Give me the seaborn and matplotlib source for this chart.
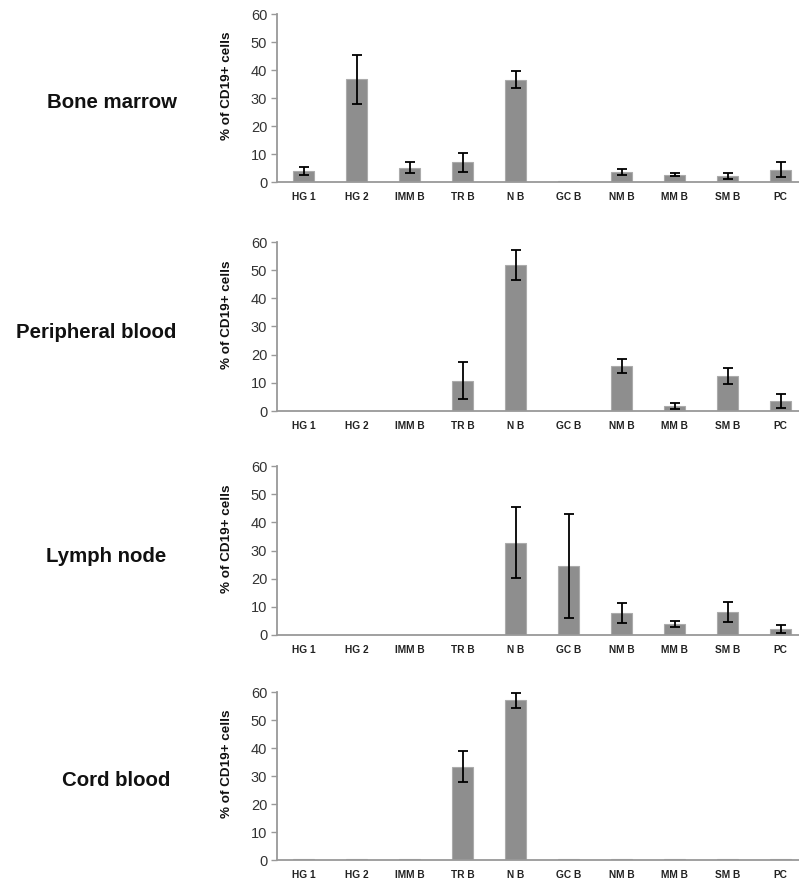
import numpy as np
import pandas as pd
import matplotlib
matplotlib.use("Agg")
import matplotlib.pyplot as plt
import seaborn as sns

categories = ["HG 1", "HG 2", "IMM B", "TR B", "N B", "GC B", "NM B", "MM B", "SM B", "PC"]
tissues = ["Bone marrow", "Peripheral blood", "Lymph node", "Cord blood"]

bone_marrow_mean = [4.0, 36.7, 5.1, 7.0, 36.6, 0.2, 3.6, 2.6, 2.0, 4.4]
bone_marrow_err = [1.5, 8.8, 2.0, 3.4, 3.2, 0.0, 1.1, 0.5, 1.1, 2.7]

peripheral_blood_mean = [0, 0, 0, 10.8, 51.8, 0, 16.0, 1.9, 12.4, 3.6]
peripheral_blood_err = [0, 0, 0, 6.6, 5.3, 0, 2.4, 1.1, 2.9, 2.4]

lymph_node_mean = [0, 0, 0, 0, 32.8, 24.5, 7.8, 4.0, 8.2, 2.2]
lymph_node_err = [0, 0, 0, 0, 12.6, 18.5, 3.4, 1.0, 3.5, 1.5]

cord_blood_mean = [0.2, 0.2, 0.2, 33.3, 57.0, 0.2, 0.2, 0.2, 0.2, 0.2]
cord_blood_err = [0, 0, 0, 5.6, 2.7, 0, 0, 0, 0, 0]

y_ticks = [0, 10, 20, 30, 40, 50, 60]

means = [bone_marrow_mean, peripheral_blood_mean, lymph_node_mean, cord_blood_mean]
errs = [bone_marrow_err, peripheral_blood_err, lymph_node_err, cord_blood_err]

sns.set_theme(style="white")
plt.rcParams["font.family"] = ["Liberation Sans", "DejaVu Sans"]

W, H = 799, 880
fig = plt.figure(figsize=(W / 100, H / 100), dpi=100)

# pixel layout: (axis bottom y, axis top y, title x centre, title y centre)
rows = [(182, 14, 112, 103), (411, 242, 96, 332), (635, 466, 106, 557), (860, 692, 116, 781)]
ax_left, ax_right = 277, 807

for tissue, m, e, (yb, yt, tx, ty) in zip(tissues, means, errs, rows):
    ax = fig.add_axes([ax_left / W, 1 - yb / H, (ax_right - ax_left) / W, (yb - yt) / H])
    df = pd.DataFrame({"cat": categories, "val": m})
    sns.barplot(data=df, x="cat", y="val", order=categories, color="#8e8e8e",
                edgecolor="#ababab", linewidth=0.8, width=0.39, saturation=1,
                errorbar=None, ax=ax)
    xs = np.arange(len(categories))
    mask = np.array(e) > 0
    ax.errorbar(xs[mask], np.array(m)[mask], yerr=np.array(e)[mask], fmt="none",
                ecolor="black", elinewidth=1.3, capsize=3.4, capthick=1.3, zorder=5)
    ax.set_ylim(0, 60)
    ax.set_xlim(-0.5, 9.5)
    ax.set_yticks(y_ticks)
    ax.set_yticklabels([str(t) for t in y_ticks], fontsize=10.5, color="#333333")
    ax.set_xticks(xs)
    ax.set_xticklabels(categories, fontsize=7.3, fontweight="bold", color="#222222")
    ax.set_xticks(np.arange(10) + 0.5, minor=True)
    ax.tick_params(axis="x", which="major", length=0, pad=7)
    ax.tick_params(axis="x", which="minor", length=6, direction="inout", color="#999999", width=1)
    ax.tick_params(axis="y", which="major", length=4, direction="out", color="#999999", width=1, pad=3, left=True)
    ax.set_xlabel("")
    ax.set_ylabel("% of CD19+ cells", fontsize=9.7, fontweight="bold", color="#111111")
    ax.yaxis.set_label_coords(-(ax_left - 233) / (ax_right - ax_left), 0.57)
    for s in ["top", "right"]:
        ax.spines[s].set_visible(False)
    for s in ["left", "bottom"]:
        ax.spines[s].set_color("#999999")
        ax.spines[s].set_linewidth(1.3)
    ax.set_facecolor("none")
    fig.text(tx / W, 1 - ty / H, tissue, ha="center", va="center",
             fontsize=14.7, fontweight="bold", color="#111111")

fig.savefig("out.png", dpi=100, facecolor="white")
